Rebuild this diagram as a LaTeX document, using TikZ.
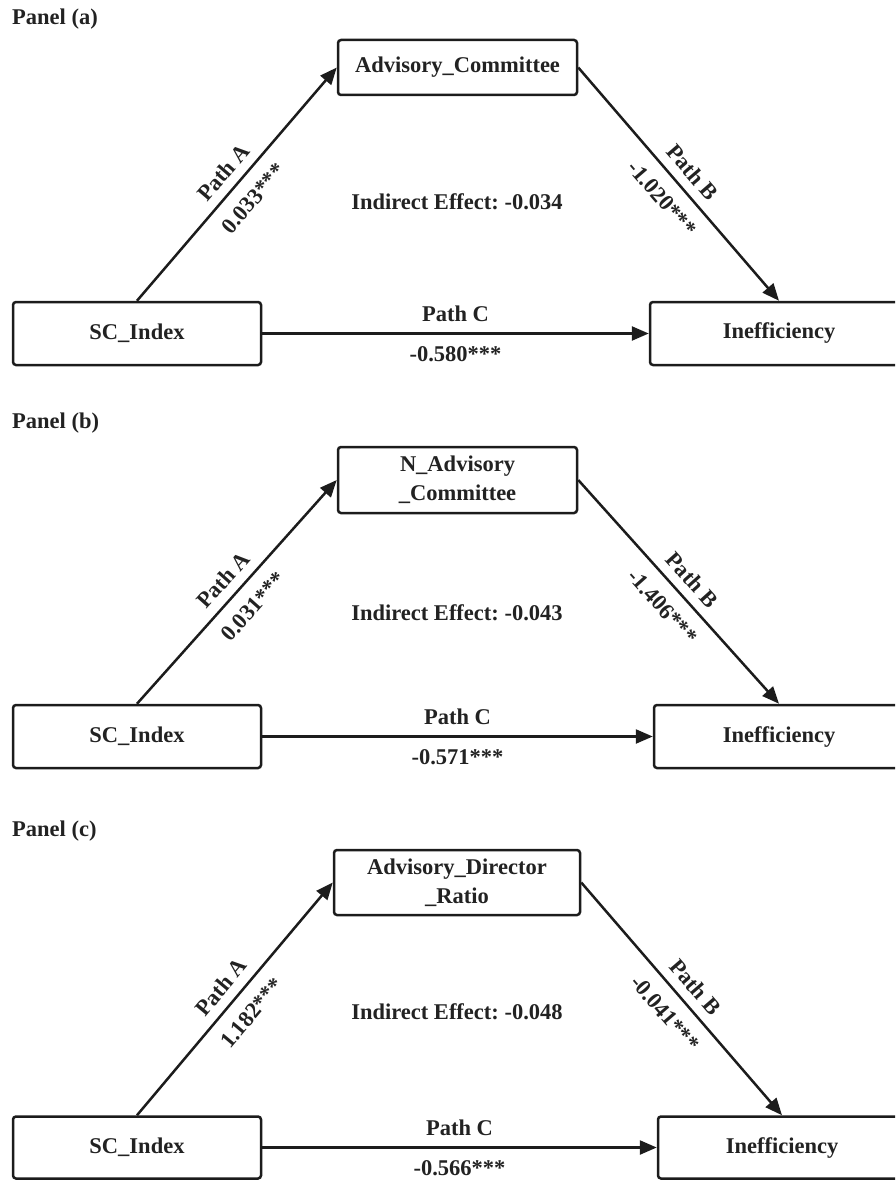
\documentclass[tikz,border=0pt]{standalone}
\usepackage{fontspec}
\setmainfont{Liberation Serif}
\usetikzlibrary{arrows.meta}
\definecolor{textc}{HTML}{222222}
\definecolor{linec}{HTML}{1C1C1C}
\newcommand\lblfont{\bfseries\fontsize{22.5}{28.5}\selectfont}
\begin{document}
\frenchspacing
\begin{tikzpicture}[x=1pt,y=-1pt,
  varbox/.style={draw=linec, line width=2.5pt, rounded corners=3pt, fill=white,
    inner sep=0pt, align=center, font=\lblfont, text=textc},
  arr/.style={draw=linec, line width=2.5pt, -{Triangle[length=17pt,width=14pt]}},
  lbl/.style={font=\lblfont, text=textc, inner sep=2pt},
  namelbl/.style={lbl, pos=0.5, sloped, above=7pt},
  vallbl/.style={lbl, pos=0.5, sloped, below=11pt},
  clbl/.style={lbl, pos=0.5, above=9pt},
  cval/.style={lbl, pos=0.5, below=10pt},
  panellbl/.style={lbl, anchor=west, inner sep=0pt}]
\useasboundingbox (0,0) rectangle (895,1180);
\clip (0,0) rectangle (895,1180);

% ---------------- Panel (a)
\node[panellbl] (pa) at (12,19) {Panel (a)};
\node[varbox, minimum width=239pt, minimum height=55pt] (ma) at (457.5,67.5) {Advisory\_Committee};
\node[varbox, minimum width=248pt, minimum height=63pt] (sa) at (137,333.5) {SC\_Index};
\node[varbox, minimum width=258pt, minimum height=63pt] (ia) at (779,333.5) {Inefficiency};
\draw[arr] (sa.north) -- node[namelbl] {Path A} node[vallbl] {0.033***} (ma.west);
\draw[arr] (ma.east) -- node[namelbl] {Path B} node[vallbl] {-1.020***} (ia.north);
\draw[arr] (sa.east) -- node[clbl] {Path C} node[cval] {-0.580***} (ia.west);
\node[lbl] (iea) at (457,202) {Indirect Effect: -0.034};

% ---------------- Panel (b)
\node[panellbl] (pb) at (12,423) {Panel (b)};
\node[varbox, minimum width=239pt, minimum height=66pt] (mb) at (457.5,480) {N\_Advisory\\\_Committee};
\node[varbox, minimum width=248pt, minimum height=63pt] (sb) at (137,736.5) {SC\_Index};
\node[varbox, minimum width=250pt, minimum height=63pt] (ib) at (779,736.5) {Inefficiency};
\draw[arr] (sb.north) -- node[namelbl] {Path A} node[vallbl] {0.031***} (mb.west);
\draw[arr] (mb.east) -- node[namelbl] {Path B} node[vallbl] {-1.406***} (ib.north);
\draw[arr] (sb.east) -- node[clbl] {Path C} node[cval] {-0.571***} (ib.west);
\node[lbl] (ieb) at (457,613) {Indirect Effect: -0.043};

% ---------------- Panel (c)
\node[panellbl] (pc) at (12,831) {Panel (c)};
\node[varbox, minimum width=246pt, minimum height=65pt] (mc) at (457,882.5) {Advisory\_Director\\\_Ratio};
\node[varbox, minimum width=248pt, minimum height=62pt] (sc) at (137,1147.5) {SC\_Index};
\node[varbox, minimum width=248pt, minimum height=62pt] (ic) at (782,1147.5) {Inefficiency};
\draw[arr] (sc.north) -- node[namelbl] {Path A} node[vallbl] {1.182***} (mc.west);
\draw[arr] (mc.east) -- node[namelbl] {Path B} node[vallbl] {-0.041***} (ic.north);
\draw[arr] (sc.east) -- node[clbl] {Path C} node[cval] {-0.566***} (ic.west);
\node[lbl] (iec) at (457,1012) {Indirect Effect: -0.048};
\end{tikzpicture}
\end{document}
